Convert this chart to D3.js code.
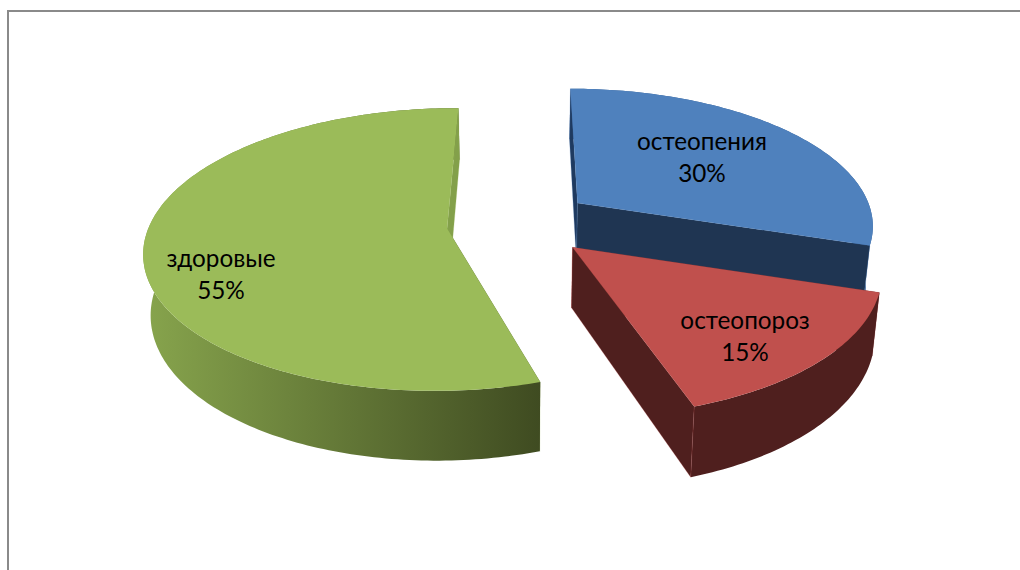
<!DOCTYPE html>
<html lang="ru">
<head>
<meta charset="utf-8">
<script src="https://cdn.jsdelivr.net/npm/d3@7"></script>
<style>
html,body{margin:0;padding:0;background:#fff;overflow:hidden}
svg{display:block}
text{font-family:Lato,"Open Sans","Noto Sans",sans-serif;font-size:24.3px;fill:#000;text-anchor:middle}
</style>
</head>
<body>
<svg id="c" width="1020" height="570"></svg>
<script>
const categories = ["остеопения", "остеопороз", "здоровые"];
const values = [30, 15, 55];
const percentLabels = ["30%", "15%", "55%"];
const topColors = ["#4f81bd", "#c0504d", "#9bbb59"];
const wallColors = ["#1f3552", "#4f1f1e", "#83a04a"];

// layout of the projected pie
const W = {xc:518, yh:226, A:300, B:138, p:0.15, h:59, shrink:0.98, explode:0.235, start:-0.5};
const nudge = [[4,-4,0.5,0.99],[3,-2,0,0.99],[-1,-3,1,0.99]];   // dx, dy, rotation in degrees, radius
const labelAt = [[702,150],[745,329],[221,267]];

const rad = d => d*Math.PI/180;
const svg = d3.select("#c");
const defs = svg.append("defs");
const grad = defs.append("linearGradient").attr("id","gw").attr("gradientUnits","userSpaceOnUse")
  .attr("x1",150).attr("x2",541).attr("y1",0).attr("y2",0);
grad.append("stop").attr("offset",0).attr("stop-color","#86a34c");
grad.append("stop").attr("offset",1).attr("stop-color","#3f4b21");

svg.append("path").attr("d","M8,570V11H1020").attr("fill","none").attr("stroke","#8a8a8a").attr("stroke-width",2);

const pie = d3.pie().sort(null).startAngle(rad(W.start)).endAngle(rad(W.start+360));
const arcs = pie(values);

function proj(X,V,bottom){
  const w = 1-W.p*V;
  let x = W.xc + W.A*X/w, y = W.yh + W.B*V/w;
  if(bottom){ x = W.xc+(x-W.xc)*W.shrink; y += W.h/w; }
  return [x,y];
}
const line = d3.line();
arcs.forEach((a,i)=>{
  const mid=(a.startAngle+a.endAngle)/2;
  const ex=W.explode*Math.sin(mid), ev=-W.explode*Math.cos(mid);
  const t0=a.startAngle+rad(nudge[i][2]), t1=a.endAngle+rad(nudge[i][2]);
  const n=Math.ceil((t1-t0)/rad(1));
  const ts=d3.range(n+1).map(k=>t0+(t1-t0)*k/n);
  const pt=(t,r,b)=>{const q=proj(ex+r*Math.sin(t),ev-r*Math.cos(t),b);return [q[0]+nudge[i][0],q[1]+nudge[i][1]];};
  const g=svg.append("g");
  const R=nudge[i][3];
  const topArc=ts.map(t=>pt(t,R,false)), botArc=ts.map(t=>pt(t,R,true));
  const apexT=pt(0,0,false), apexB=pt(0,0,true);
  const wall = i===2 ? "url(#gw)" : wallColors[i];
  const edge = el => el.attr("stroke",topColors[i]).attr("stroke-opacity",0.35).attr("stroke-width",0.7);
  const outer = () => g.append("path").attr("d",line(topArc.concat(botArc.slice().reverse()))+"Z")
    .attr("fill",i===0?"#3a6398":wall);
  const startWall = () => g.append("path").attr("d",line([apexT,topArc[0],botArc[0],apexB])+"Z")
    .attr("fill",i===0?"#1f3a5f":i===2?"#3f4b21":wallColors[i]).call(edge);
  const endWall = () => g.append("path").attr("d",line([apexT,topArc[n],botArc[n],apexB])+"Z")
    .attr("fill",wallColors[i]).call(edge);
  // paint from the hidden faces to the visible ones
  if(i===0){ outer(); startWall(); endWall(); }
  else { startWall(); outer(); endWall(); }
  g.append("path").attr("d",line([apexT].concat(topArc))+"Z").attr("fill",topColors[i]);
});
arcs.forEach((a,i)=>{
  svg.append("text").attr("x",labelAt[i][0]).attr("y",labelAt[i][1]).text(categories[i]);
  svg.append("text").attr("x",labelAt[i][0]).attr("y",labelAt[i][1]+32).text(percentLabels[i]);
});
</script>
</body>
</html>
